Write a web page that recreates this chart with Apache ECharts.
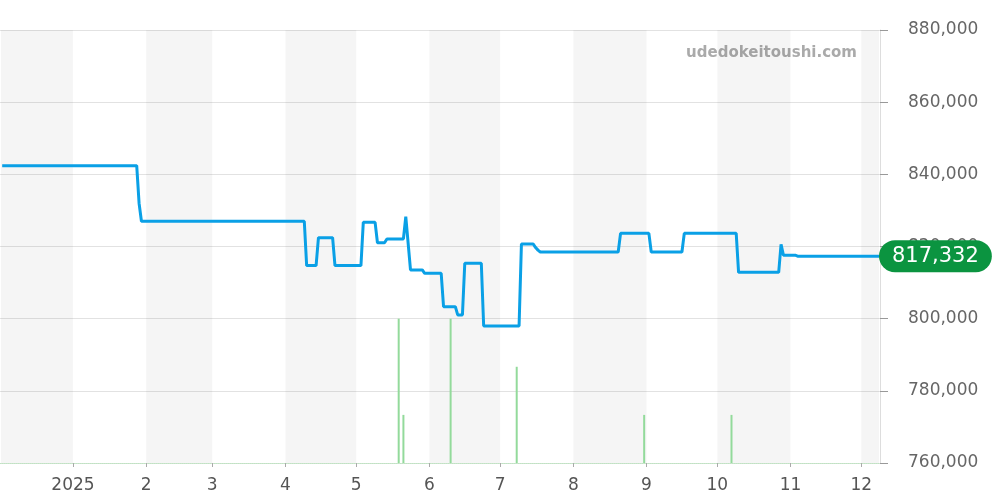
<!DOCTYPE html>
<html><head><meta charset="utf-8">
<script src="https://cdn.jsdelivr.net/npm/echarts@6/dist/echarts.min.js"></script>
<style>html,body{margin:0;padding:0;background:#fff}#c{width:1000px;height:500px}</style>
</head><body><div id="c"></div>
<script>
const priceDates = ['2024-12-02','2025-01-28','2025-01-29','2025-01-30','2025-04-09','2025-04-10','2025-04-14','2025-04-15','2025-04-21','2025-04-22','2025-05-03','2025-05-04','2025-05-09','2025-05-10','2025-05-13','2025-05-14','2025-05-21','2025-05-22','2025-05-24','2025-05-29','2025-05-30','2025-06-06','2025-06-07','2025-06-12','2025-06-13','2025-06-15','2025-06-16','2025-06-23','2025-06-24','2025-07-09','2025-07-10','2025-07-15','2025-07-16','2025-07-17','2025-07-18','2025-08-20','2025-08-21','2025-09-02','2025-09-03','2025-09-16','2025-09-17','2025-10-09','2025-10-10','2025-10-27','2025-10-28','2025-10-29','2025-11-03','2025-11-04','2025-12-08T12:00:00'];
const priceValues = [842400,842400,832000,827000,827000,814700,814700,822450,822450,814700,814700,826700,826700,821050,821050,822100,822100,828300,813500,813500,812580,812580,803330,803330,801030,801030,815350,815350,797980,797980,820700,820700,819700,819000,818480,818480,823640,823640,818480,818480,823640,823640,812850,812850,820620,817600,817600,817332,817332];
const volumeDates = ['2025-05-19','2025-05-21','2025-06-10','2025-07-08','2025-08-31','2025-10-07'];
const volumeValues = [3,1,3,2,1,1];
const xMin = '2024-12-01T12:00:00';
const xMax = '2025-12-08T12:00:00';
const yMin = 760000, yMax = 880000, yStep = 20000;
const watermark = 'udedokeitoushi.com';

const toTs = s => new Date(s).getTime();
const minTs = toTs(xMin), maxTs = toTs(xMax);
// alternating month shading starting with Dec 2024
const bands = [];
for (let y = 2024, m = 11; ; ) {
  const s = new Date(y, m, 1).getTime();
  if (s > maxTs) break;
  const e = new Date(y, m + 1, 1).getTime();
  bands.push([{xAxis: Math.max(s, minTs)}, {xAxis: Math.min(e, maxTs)}]);
  m += 2; if (m > 11) { m -= 12; y += 1; }
}

const chart = echarts.init(document.getElementById('c'));
chart.setOption({
  animation: false,
  textStyle: {fontFamily: 'DejaVu Sans'},
  grid: {left: 0, right: 120, top: 30, bottom: 37, containLabel: false},
  graphic: [{type: 'text', right: 143, top: 46, style: {text: watermark, fill: '#aaaaaa', font: 'bold 15px DejaVu Sans'}}],
  xAxis: {
    type: 'time', min: minTs, max: maxTs, splitNumber: 12,
    axisLine: {show: true, lineStyle: {color: '#bfe3c2', type: 'dotted'}},
    axisTick: {show: true, length: 4, lineStyle: {color: '#aaa'}},
    splitLine: {show: false},
    axisLabel: {
      fontSize: 17, color: '#555', margin: 14, showMinLabel: false, showMaxLabel: false,
      formatter: v => { const d = new Date(v); return d.getMonth() === 0 ? String(d.getFullYear()) : String(d.getMonth() + 1); }
    }
  },
  yAxis: [{
    type: 'value', position: 'right', min: yMin, max: yMax, interval: yStep,
    axisLine: {show: true, lineStyle: {color: '#ddd'}},
    axisTick: {show: true, length: 8, lineStyle: {color: '#999'}},
    splitLine: {lineStyle: {color: '#e2e2e2'}},
    axisLabel: {fontSize: 17, color: '#666', margin: 28, formatter: v => v.toLocaleString('en-US')}
  }, {
    type: 'value', min: 0, max: 9, show: false, splitLine: {show: false}
  }],
  series: [{
    type: 'bar', yAxisIndex: 1, barWidth: 2, z: 2,
    itemStyle: {color: '#93da9b'},
    data: volumeDates.map((d, i) => [toTs(d), volumeValues[i]]),
    markArea: {silent: true, itemStyle: {color: 'rgba(0,0,0,0.04)'}, data: bands}
  }, {
    type: 'line', z: 3, showSymbol: false,
    lineStyle: {color: '#0aa0e6', width: 3},
    data: priceDates.map((d, i) => [toTs(d), priceValues[i]]),
    endLabel: {
      show: true, distance: 0, formatter: p => p.value[1].toLocaleString('en-US'),
      backgroundColor: '#0b9440', color: '#fff', fontSize: 21, borderRadius: 17, padding: [6, 13, 5, 13]
    }
  }]
});
</script></body></html>
